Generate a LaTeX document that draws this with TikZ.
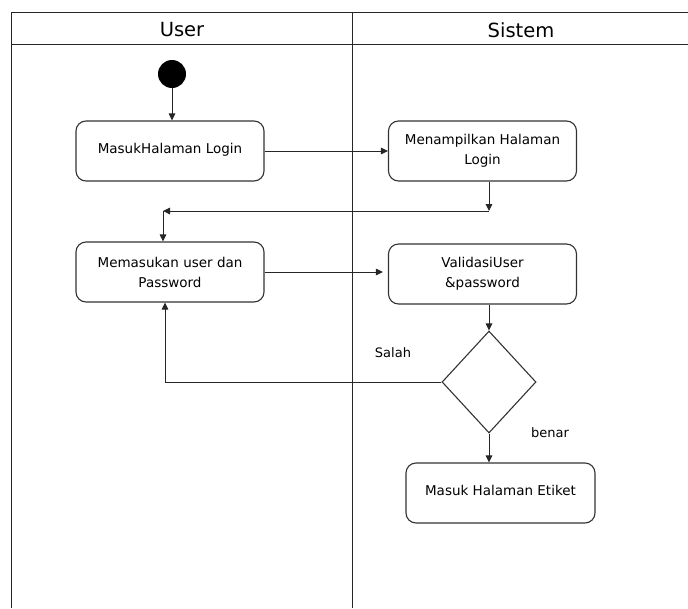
\documentclass[tikz,border=0pt]{standalone}
\usepackage{fontspec}
\setmainfont{DejaVu Sans}
\usetikzlibrary{arrows.meta,shapes.geometric,calc}
\begin{document}
\begin{tikzpicture}[x=1pt,y=-1pt,
 act/.style={draw=black!80,line width=1.1pt,rounded corners=10pt,minimum width=188pt,minimum height=60pt,inner sep=0pt,align=center,font=\fontsize{13.5}{20}\selectfont},
 flow/.style={draw=black!85,line width=1pt,-{Triangle[length=7pt,width=6.5pt]}},
 lane/.style={draw=black!85,line width=1pt},
 head/.style={font=\fontsize{19.5}{22}\selectfont},
 lbl/.style={font=\fontsize{13}{16}\selectfont}]
\useasboundingbox (0,0) rectangle (688,608);
% swimlanes
\draw[lane] (688,12) -- (11,12) -- (11,608);
\draw[lane] (11,44) -- (688,44);
\draw[lane] (352,12) -- (352,608);
\node[head] (hu) at (182,30) {User};
\node[head] (hs) at (521,30) {Sistem};
% nodes
\node[circle,fill=black,minimum size=28pt,inner sep=0pt] (s) at (172,74) {};
\node[act] (b1) at (170,151) {\raisebox{6pt}{MasukHalaman Login}};
\node[act] (b2) at (482.5,151) {Menampilkan Halaman\\Login};
\node[act] (b3) at (170,272) {Memasukan user dan\\Password};
\node[act] (b4) at (482.5,274) {ValidasiUser\\\&password};
\node[act,minimum width=189pt] (b5) at (500.5,493) {\raisebox{5pt}{Masuk Halaman Etiket}};
\node[diamond,draw=black!80,line width=1.1pt,minimum width=94pt,minimum height=102pt,inner sep=0pt] (d) at (489,382) {};
\coordinate (j1) at (489,211);
\coordinate (j2) at (163,211);
\coordinate (j3) at (165,382);
% connectors
\draw[flow] (s) -- (s |- b1.north);
\draw[flow] (b1) -- (b2);
\draw[flow] (b2.south -| j1) -- (j1);
\draw[flow] (j1) -- (j2);
\draw[flow] (j2) -- (j2 |- b3.north);
\draw[flow,shorten >=5pt] (b3) -- (b3 -| b4.west);
\draw[flow] (b4.south -| d.north) -- (d.north);
\draw[flow] (d.south) -- (d.south |- b5.north);
\draw[flow] (d.west) -- (j3) -- (j3 |- b3.south);
% labels
\node[lbl] (ls) at (393,353) {Salah};
\node[lbl] (lb) at (550,433) {benar};
\end{tikzpicture}
\end{document}
